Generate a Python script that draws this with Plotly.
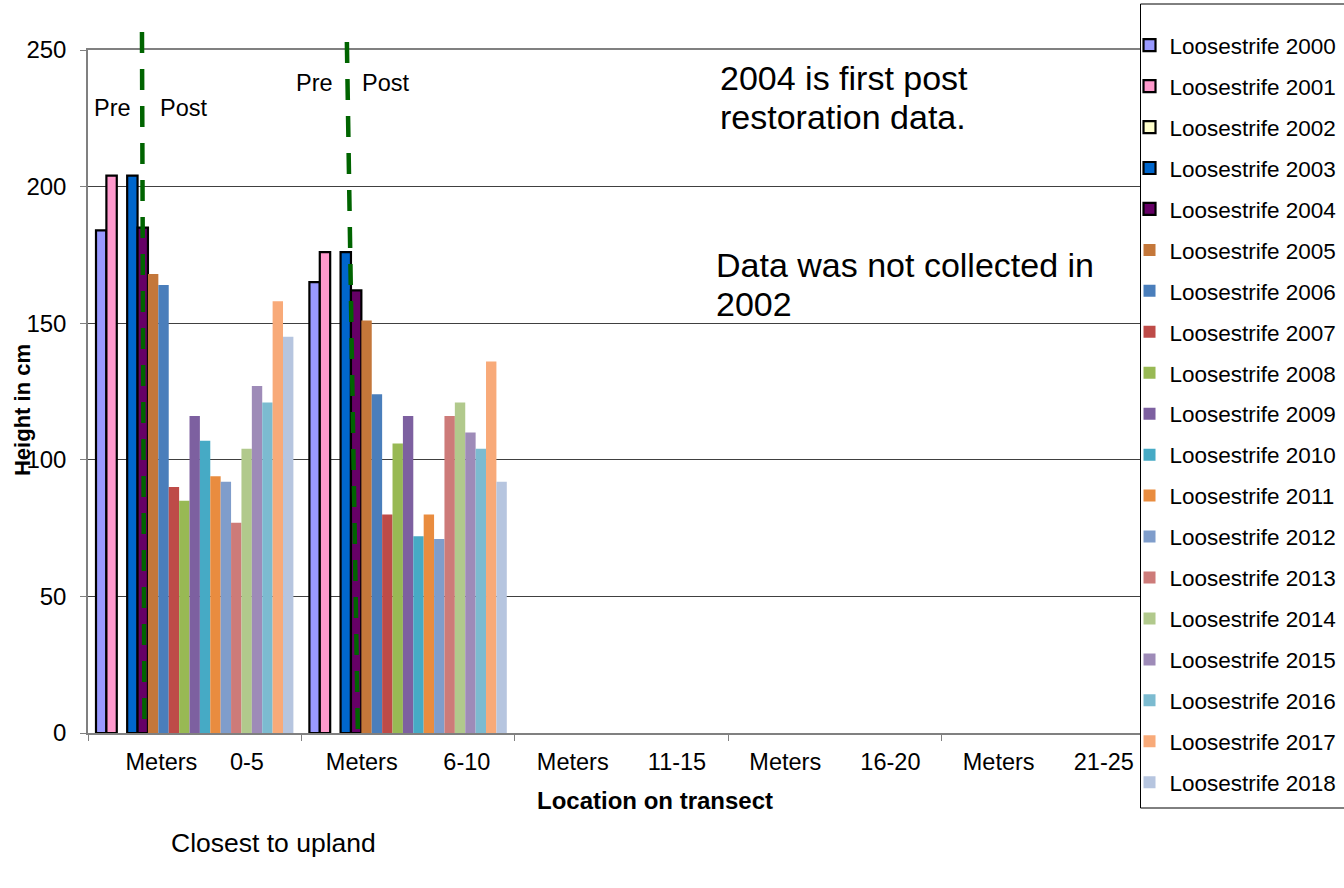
import plotly.graph_objects as go

# ---------------- data ----------------
NB = "\u00a0"
categories = [
    "Meters" + NB * 5 + "0-5",
    "Meters" + NB * 7 + "6-10",
    "Meters" + NB * 6 + "11-15",
    "Meters" + NB * 6 + "16-20",
    "Meters" + NB * 6 + "21-25",
]
years = list(range(2000, 2019))
# heights (cm) per year, transect location 0-5 m and 6-10 m ; None = not collected
height_0_5 = [184, 204, None, 204, 185, 168, 164, 90, 85, 116, 107, 94, 92, 77, 104, 127, 121, 158, 145]
height_6_10 = [165, 176, None, 176, 162, 151, 124, 80, 106, 116, 72, 80, 71, 116, 121, 110, 104, 136, 92]
colors = ["#9999FF", "#FF99CC", "#FFFFCC", "#0066CC", "#660066",
          "#C4773A", "#4A7EBB", "#BE4B48", "#98B954", "#7D60A0",
          "#46AAC5", "#E98C3F", "#7F9DCB", "#CD7B79", "#B1C98C",
          "#9E8BB8", "#7CBBD0", "#F8AA79", "#B6C5DF"]
outlined_years = [2000, 2001, 2002, 2003, 2004]

# ---------------- geometry helpers (pixels -> paper) ----------------
W, H = 1344, 888
L, R, T, B = 88, 1155.5, 50, 733
def px(x):
    return (x - L) / (R - L)
def py(y):
    return (B - y) / (B - T)

FONT = "Arial, Liberation Sans, sans-serif"

fig = go.Figure()
for i, yr in enumerate(years):
    vals = [height_0_5[i], height_6_10[i], None, None, None]
    outlined = yr in outlined_years
    fig.add_trace(go.Bar(
        x=categories, y=vals, name=f"Loosestrife {yr}",
        legendgroup=str(yr),
        marker=dict(color=colors[i],
                    line=dict(color="black", width=2.2 if outlined else 0)),
    ))

fig.update_layout(
    width=W, height=H,
    margin=dict(l=L, r=W - R, t=T, b=H - B, autoexpand=False),
    barmode="group", bargap=0.075, bargroupgap=0,
    plot_bgcolor="white", paper_bgcolor="white",
    font=dict(family=FONT, color="black"),
    showlegend=True,
    legend=dict(
        x=px(1130), y=py(24), xanchor="left", yanchor="top",
        bgcolor="rgba(0,0,0,0)", borderwidth=0,
        font=dict(size=22.5, family=FONT, color="black"),
        tracegroupgap=8.7, traceorder="grouped", maxheight=1.0,
    ),
)
fig.update_xaxes(
    type="category", categoryorder="array", categoryarray=categories,
    showline=True, linecolor="#808080", linewidth=1.5, mirror=True,
    ticks="outside", ticklen=6, tickcolor="#808080", tickson="boundaries",
    tickfont=dict(size=23.5, family=FONT, color="black"),
    ticklabelstandoff=7,
    showgrid=False,
)
fig.update_yaxes(
    range=[0, 250], dtick=50,
    showline=True, linecolor="#808080", linewidth=1.5,
    ticks="outside", ticklen=6, tickcolor="#808080",
    tickfont=dict(size=24, family=FONT, color="black"),
    ticklabelstandoff=9,
    showgrid=True, gridcolor="#404040", gridwidth=1,
    zeroline=False,
)

# dashed "restoration" markers (category units on x)
cat_w = (R - L) / len(categories)
def cx(x):
    return (x - (L + cat_w / 2)) / cat_w
for (xt, yt, xb) in [(142, 32, 144.5), (347, 42, 358)]:
    fig.add_shape(type="line", xref="x", yref="paper",
                  x0=cx(xt), y0=py(yt), x1=cx(xb), y1=py(B),
                  line=dict(color="#006400", width=4.5, dash="21px,16px"),
                  layer="above")

# legend frame
fig.add_shape(type="rect", xref="paper", yref="paper",
              x0=px(1141), x1=px(1360), y0=py(808), y1=py(4),
              fillcolor="white", line=dict(color="black", width=1), layer="above")

def ann(text, x, y, size, xanchor="center", bold=False, angle=0):
    fig.add_annotation(text=f"<b>{text}</b>" if bold else text,
                       xref="paper", yref="paper", x=px(x), y=py(y),
                       xanchor=xanchor, yanchor="middle", showarrow=False,
                       textangle=angle,
                       font=dict(size=size, family=FONT, color="black"))

ann("Pre", 113, 108, 23.5)
ann("Post", 183.5, 108, 23.5)
ann("Pre", 315, 83, 23.5)
ann("Post", 385.5, 83, 23.5)
ann("2004 is first post", 718, 78, 34, xanchor="left")
ann("restoration data.", 718, 117, 34, xanchor="left")
ann("Data was not collected in", 714, 265, 34, xanchor="left")
ann("2002", 714, 304, 34, xanchor="left")
ann("Closest to upland", 273.5, 843, 26.5)
ann("Location on transect", 655.5, 800, 24, bold=True)
ann("Height in cm", 22, 410, 22, bold=True, angle=-90)

fig.write_html("out.html", config={"displayModeBar": False},
               post_script="document.body.style.margin='0px';")
